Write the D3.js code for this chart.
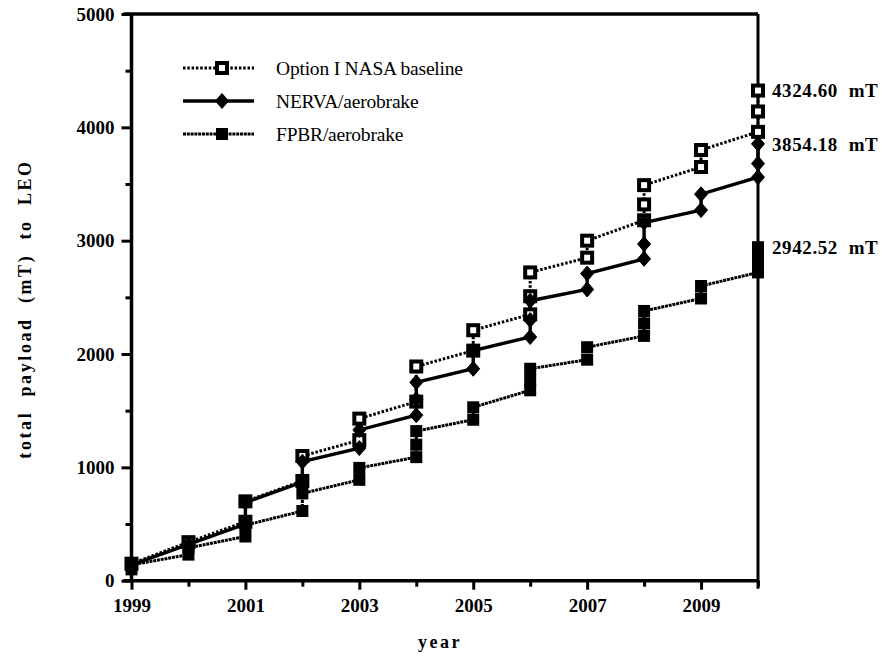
<!DOCTYPE html>
<html>
<head>
<meta charset="utf-8">
<script src="https://cdn.jsdelivr.net/npm/d3@7"></script>
<style>
  html, body { margin: 0; padding: 0; background: #fff; }
  svg { display: block; }
  text { font-family: "Liberation Serif", "Times New Roman", serif; fill: #000; }
</style>
</head>
<body>
<svg id="chart" width="882" height="658"></svg>
<script>
// Launch years on the x axis
const years = [1999, 2000, 2001, 2002, 2003, 2004, 2005, 2006, 2007, 2008, 2009, 2010];
const yearTickLabels = [1999, 2001, 2003, 2005, 2007, 2009];
const payloadTickLabels = [0, 1000, 2000, 3000, 4000, 5000];

// Cumulative payload (mT) after each launch, grouped by year
const baselineTotals = [[150], [340], [520, 700], [880, 1100], [1240, 1430], [1580, 1890], [2030, 2210],
  [2350, 2510, 2720], [2850, 3000], [3180, 3320, 3490], [3650, 3800], [3960, 4140, 4324.60]];
const nervaTotals = [[140], [320], [500, 690], [870, 1050], [1170, 1330], [1460, 1600, 1750], [1870, 2030],
  [2150, 2300, 2470], [2570, 2710], [2840, 2970, 3160], [3270, 3410], [3560, 3680, 3854.18]];
const fpbrTotals = [[100, 140], [230, 290], [390, 490], [615, 770], [890, 995], [1090, 1200, 1320], [1420, 1530],
  [1680, 1770, 1870], [1950, 2060], [2160, 2270, 2380], [2490, 2600], [2720, 2800, 2880, 2942.52]];

const seriesNames = ["Option I NASA baseline", "NERVA/aerobrake", "FPBR/aerobrake"];
const finalLabels = ["4324.60 mT", "3854.18 mT", "2942.52 mT"];

const svg = d3.select("#chart");
const x = d3.scaleLinear().domain([1999, 2010]).range([131.5, 758]);
const y = d3.scaleLinear().domain([0, 5000]).range([580.7, 14]);

function toPoints(groups) {
  const pts = [];
  groups.forEach((g, i) => g.forEach(v => pts.push({ year: years[i], value: v })));
  return pts;
}

const series = [
  { name: seriesNames[0], pts: toPoints(baselineTotals), marker: "openSquare", dash: "2.5,1.8", width: 3 },
  { name: seriesNames[1], pts: toPoints(nervaTotals), marker: "diamond", dash: null, width: 3.4 },
  { name: seriesNames[2], pts: toPoints(fpbrTotals), marker: "square", dash: "3,0.8", width: 3 }
];

const line = d3.line().x(d => x(d.year)).y(d => y(d.value));

function drawMarker(g, kind, cx, cy) {
  if (kind === "openSquare") {
    g.append("rect").attr("x", cx - 5).attr("y", cy - 5).attr("width", 10).attr("height", 10)
      .attr("fill", "#fff").attr("stroke", "#000").attr("stroke-width", 4);
  } else if (kind === "square") {
    g.append("rect").attr("x", cx - 6).attr("y", cy - 6).attr("width", 12).attr("height", 12)
      .attr("fill", "#000");
  } else {
    g.append("path").attr("d", `M${cx},${cy - 7.5}L${cx + 6.5},${cy}L${cx},${cy + 7.5}L${cx - 6.5},${cy}Z`)
      .attr("fill", "#000").attr("stroke", "#000").attr("stroke-width", 1).attr("stroke-linejoin", "round");
  }
}

// Axes
const xAxis = svg.append("g").attr("transform", `translate(0,${y(0)})`)
  .call(d3.axisBottom(x).tickValues(years).tickSize(8).tickPadding(10)
    .tickFormat(d => yearTickLabels.includes(d) ? d : ""));
xAxis.selectAll(".tick line").attr("stroke-width", 3)
  .attr("y2", d => yearTickLabels.includes(d) ? 9 : 6);
xAxis.selectAll(".tick text").attr("font-size", 19).attr("font-weight", "bold");
xAxis.select(".domain").attr("stroke-width", 3.5).attr("d", `M${x(1999) - 8},0H${x(2010)}`);

const yAxis = svg.append("g").attr("transform", `translate(${x(1999)},0)`)
  .call(d3.axisLeft(y).tickValues(d3.range(0, 5001, 500)).tickSize(9).tickPadding(8)
    .tickFormat(d => payloadTickLabels.includes(d) ? d : ""));
yAxis.selectAll(".tick line").attr("stroke-width", 3)
  .attr("x2", d => payloadTickLabels.includes(d) ? -10 : -6);
yAxis.selectAll(".tick text").attr("font-size", 19).attr("font-weight", "bold");
yAxis.select(".domain").attr("stroke-width", 3.5).attr("d", `M0,${y(5000)}V${y(0)}`);

// Frame: top and right edges
svg.append("line").attr("x1", x(1999) - 8).attr("x2", x(2010)).attr("y1", y(5000)).attr("y2", y(5000))
  .attr("stroke", "#000").attr("stroke-width", 3.5);
svg.append("line").attr("x1", x(2010)).attr("x2", x(2010)).attr("y1", y(5000)).attr("y2", y(0) + 8)
  .attr("stroke", "#000").attr("stroke-width", 3);

// Series lines and markers
series.forEach(s => {
  svg.append("path").datum(s.pts).attr("d", line).attr("fill", "none")
    .attr("stroke", "#000").attr("stroke-width", s.width)
    .attr("stroke-dasharray", s.dash);
});
series.forEach(s => {
  const g = svg.append("g");
  s.pts.forEach(p => drawMarker(g, s.marker, x(p.year), y(p.value)));
});

// End-of-period totals
series.forEach((s, i) => {
  const last = s.pts[s.pts.length - 1];
  svg.append("text").attr("x", 772).attr("y", y(last.value)).attr("dy", "0.35em")
    .attr("font-size", 19).attr("font-weight", "bold").attr("letter-spacing", 0.6)
    .attr("xml:space", "preserve")
    .text(finalLabels[i].replace(" ", "  "));
});

// Legend
const legend = svg.append("g");
series.forEach((s, i) => {
  const ly = 68 + i * 33;
  legend.append("line").attr("x1", 183).attr("x2", 254).attr("y1", ly).attr("y2", ly)
    .attr("stroke", "#000").attr("stroke-width", s.width).attr("stroke-dasharray", s.dash);
  drawMarker(legend, s.marker, 222, ly);
  legend.append("text").attr("x", 276).attr("y", ly).attr("dy", "0.35em")
    .attr("font-size", 19.5).attr("letter-spacing", -0.2).text(s.name);
});

// Axis titles
svg.append("text").attr("x", 440).attr("y", 648).attr("text-anchor", "middle")
  .attr("font-size", 18).attr("font-weight", "bold").attr("letter-spacing", 2.5).text("year");
svg.append("text").attr("transform", "translate(31,309) rotate(-90)").attr("text-anchor", "middle")
  .attr("font-size", 18).attr("font-weight", "bold").attr("letter-spacing", 2.6)
  .attr("xml:space", "preserve")
  .text("total  payload  (mT)  to  LEO");
</script>
</body>
</html>
